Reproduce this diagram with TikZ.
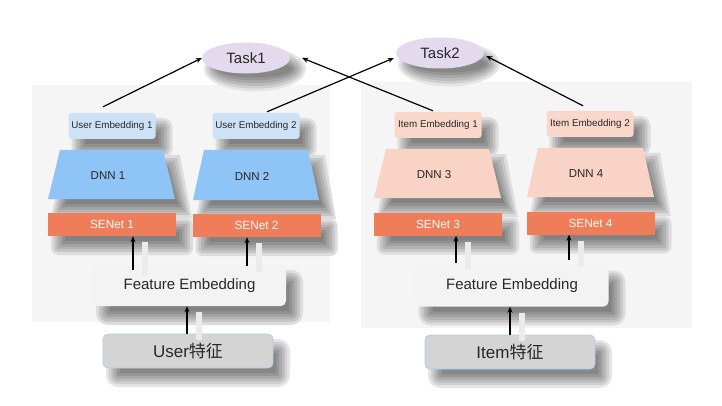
\documentclass[tikz,border=0pt]{standalone}
\usepackage{fontspec}
\setmainfont{Liberation Sans}
\newfontfamily\cjk{Noto Sans CJK SC}
\usetikzlibrary{shapes.geometric,calc,arrows.meta}
\definecolor{taskc}{RGB}{227,218,238}
\definecolor{uemb}{RGB}{206,226,246}
\definecolor{udnn}{RGB}{143,197,246}
\definecolor{iemb}{RGB}{249,215,203}
\definecolor{idnn}{RGB}{249,211,197}
\definecolor{senc}{RGB}{240,125,90}
\definecolor{panel}{RGB}{245,245,245}
\definecolor{fembc}{RGB}{243,243,243}
\definecolor{featc}{RGB}{212,212,212}
\definecolor{featb}{RGB}{172,206,236}
\definecolor{txt}{RGB}{40,40,40}
\newcommand\shlayers{7/10,4.2/19,1.4/27,-1.4/34,-4.2/41,-7/47}
\newcommand\shbg{panel}
% soft shadows (opaque graded layers): cx cy w h r
\newcommand\shrect[5]{%
  \foreach \d/\p in \shlayers{%
    \pgfmathsetmacro\rr{max(#5+\d,0.5)}%
    \fill[black!\p!\shbg,rounded corners=\rr pt]
      ({#1-#3/2-\d+10},{#2+#4/2+\d-12}) rectangle ({#1+#3/2+\d+10},{#2-#4/2-\d-12});
  }}
% cx cy rx ry
\newcommand\shell[4]{%
  \foreach \d/\p in \shlayers{%
    \fill[black!\p!\shbg] ({#1+9},{#2-11}) ellipse [x radius={#3+\d},y radius={#4+\d}];
  }}
% xtl xtr xbr xbl ytop ybot
\newcommand\shtrap[6]{%
  \foreach \d/\p in \shlayers{%
    \fill[black!\p!\shbg]
      ({#1-\d+10},{#5+\d-12}) -- ({#2+\d+10},{#5+\d-12}) -- ({#3+\d+10},{#6-\d-12}) -- ({#4-\d+10},{#6-\d-12}) -- cycle;
  }}
\begin{document}
\begin{tikzpicture}[x=1pt,y=1pt,
  task/.style={ellipse,fill=taskc,minimum width=88pt,minimum height=31pt,inner sep=0pt,text=txt,font=\fontsize{15}{17}\selectfont},
  embox/.style={rounded corners=3pt,minimum width=87pt,minimum height=26pt,inner sep=0pt,text=txt,font=\fontsize{9.8}{11}\selectfont},
  dnnlbl/.style={text=txt,font=\fontsize{11.5}{13}\selectfont,inner sep=0pt},
  senet/.style={fill=senc,minimum width=128pt,minimum height=23pt,inner sep=0pt,text=white,font=\fontsize{11.8}{13}\selectfont},
  femb/.style={fill=fembc,rounded corners=5pt,minimum width=193pt,minimum height=41pt,inner sep=0pt,text=txt,font=\fontsize{15}{17}\selectfont},
  feat/.style={fill=featc,draw=featb,line width=0.8pt,rounded corners=5pt,minimum width=170pt,minimum height=34pt,inner sep=0pt,text=txt,font=\fontsize{17}{19}\selectfont},
  arr/.style={-{Stealth[length=6pt,width=5pt]},line width=1.2pt,black},
  varr/.style={arr,preaction={draw=black!4!panel,line width=6pt,-,transform canvas={shift={(12pt,-6pt)}}}}]
\useasboundingbox (0,0) rectangle (722,-406);
\fill[white] (0,0) rectangle (722,-406);
% panels
\fill[panel] (32,-85) rectangle (330,-322);
\fill[panel] (361,-82) rectangle (692,-328);
% tasks
\renewcommand\shbg{white}
\shell{246}{-58}{44}{15.5}
\node[task] (t1) at (246,-58) {Task1};
\shell{440}{-53}{44}{15.5}
\node[task] (t2) at (440,-53) {Task2};
\renewcommand\shbg{panel}
% embeddings
\shrect{112}{-126}{87}{26}{3}
\node[embox,fill=uemb] (ue1) at (112,-126) {User Embedding 1};
\shrect{256}{-126}{87}{26}{3}
\node[embox,fill=uemb] (ue2) at (256,-126) {User Embedding 2};
\shrect{438}{-125}{87}{26}{3}
\node[embox,fill=iemb] (ie1) at (438,-125) {Item Embedding 1};
\shrect{590}{-124}{87}{26}{3}
\node[embox,fill=iemb] (ie2) at (590,-124) {Item Embedding 2};
% DNN trapezia
\shtrap{60}{163}{175}{48}{-150}{-199}
\fill[udnn] (60,-150) -- (163,-150) -- (175,-199) -- (48,-199) -- cycle;
\shtrap{204}{308}{319}{193}{-150}{-200}
\fill[udnn] (204,-150) -- (308,-150) -- (319,-200) -- (193,-200) -- cycle;
\shtrap{386}{489}{501}{374}{-149}{-198}
\fill[idnn] (386,-149) -- (489,-149) -- (501,-198) -- (374,-198) -- cycle;
\shtrap{538}{643}{654}{527}{-148}{-197}
\fill[idnn] (538,-148) -- (643,-148) -- (654,-197) -- (527,-197) -- cycle;
\node[dnnlbl] (d1) at (108,-176) {DNN 1};
\node[dnnlbl] (d2) at (252,-176) {DNN 2};
\node[dnnlbl] (d3) at (434,-175) {DNN 3};
\node[dnnlbl] (d4) at (586,-174) {DNN 4};
% SENets
\shrect{112}{-224.5}{128}{23}{0}
\node[senet] (s1) at (112,-224.5) {SENet 1};
\shrect{256.5}{-225.5}{128}{23}{0}
\node[senet] (s2) at (256.5,-225.5) {SENet 2};
\shrect{438}{-224}{128}{23}{0}
\node[senet] (s3) at (438,-224) {SENet 3};
\shrect{590.5}{-223}{128}{23}{0}
\node[senet] (s4) at (590.5,-223) {SENet 4};
% feature embeddings
\shrect{189.5}{-285.5}{193}{41}{5}
\node[femb] (f1) at (189.5,-285.5) {Feature Embedding};
\shrect{512}{-286}{193}{41}{5}
\node[femb] (f2) at (512,-286) {Feature Embedding};
% raw features
\renewcommand\shbg{white}
\shrect{188}{-351}{170}{34}{5}
\node[feat] (u) at (188,-351) {User{\cjk 特征}};
\shrect{510}{-352}{170}{34}{5}
\node[feat] (i) at (510,-352) {Item{\cjk 特征}};
% arrows
\draw[varr] (u.north -| 187,0) -- (f1.south -| 187,0);
\draw[varr] (i.north -| 510,0) -- (f2.south -| 510,0);
\draw[varr] (133,-270) -- (s1.south -| 133,0);
\draw[varr] (247,-266) -- (s2.south -| 247,0);
\draw[varr] (456,-263) -- (s3.south -| 456,0);
\draw[varr] (569,-260) -- (s4.south -| 569,0);
\draw[arr] ($(ue1.north)+(-9,6)$) -- (t1.west);
\draw[arr] ($(ue2.north)+(11,1)$) -- ($(t2.west)+(-2,-5)$);
\draw[arr] ($(ie1.north)+(-5,1)$) -- ($(t1.east)+(12,0)$);
\draw[arr] ($(ie2.north)+(-7,5)$) -- ($(t2.east)+(2,-3)$);
\end{tikzpicture}
\end{document}
